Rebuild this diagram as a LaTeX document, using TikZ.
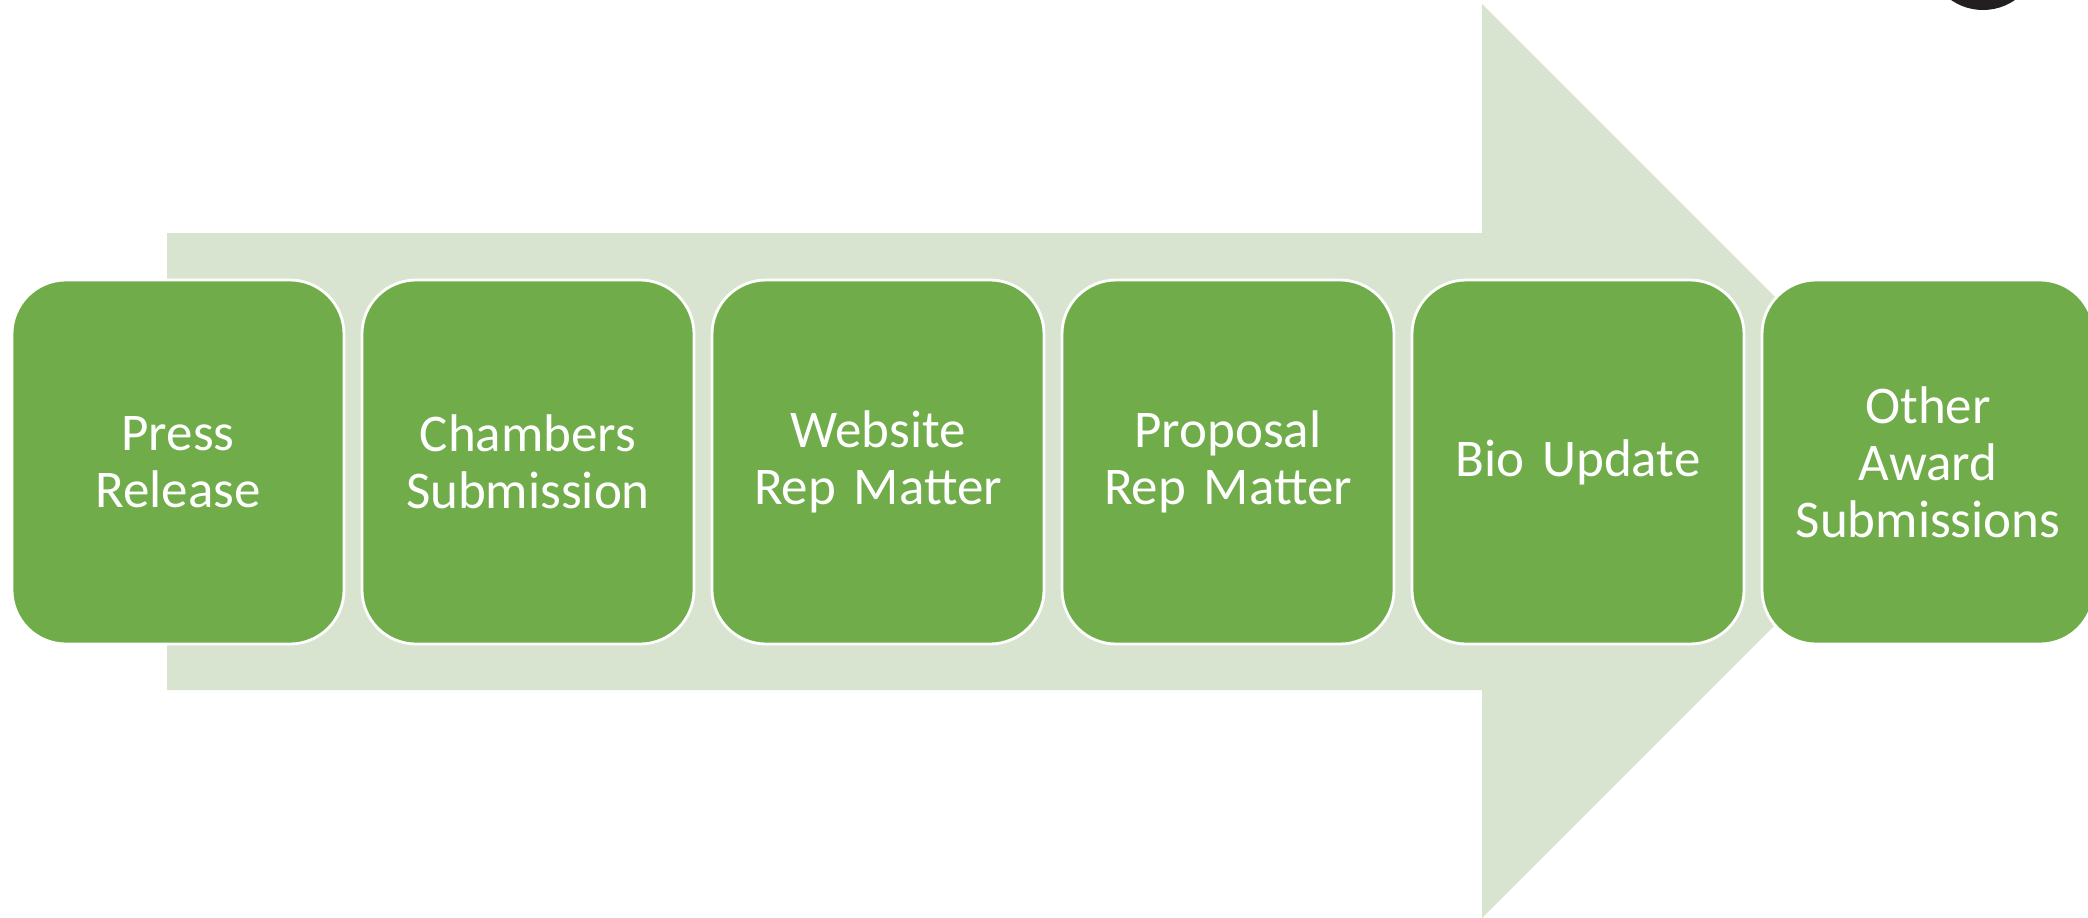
\documentclass[tikz,border=0pt]{standalone}
\usepackage{fontspec}
\setmainfont[WordSpace=0.75]{Carlito}
\definecolor{arrowfill}{HTML}{D8E4D0}
\definecolor{boxfill}{HTML}{70AD4A}
\definecolor{dotfill}{HTML}{231F20}
\tikzset{
  stagebox/.style={draw=white,line width=1.4pt,fill=boxfill,rounded corners=27pt,
    minimum width=166pt,minimum height=182pt,inner sep=0pt,outer sep=0pt,
    text=white,align=center,font=\fontsize{26.5}{28.5}\selectfont,text width=164pt},
  bigarrow/.style={fill=arrowfill,draw=none},
  dot/.style={fill=dotfill,draw=none}
}
\begin{document}
\begin{tikzpicture}[x=0.5pt,y=-0.5pt]
\useasboundingbox (0,0) rectangle (2088,917);
\clip (0,0) rectangle (2088,917);
\fill[bigarrow] (167,233) -- (1482,233) -- (1482,4) -- (1939,461) -- (1482,918) -- (1482,690) -- (167,690) -- cycle;
\fill[dot] (1983,-46) circle[radius=56];
\node[stagebox] (a) at (178,462) {Press\\Release};
\node[stagebox] (b) at (528,462) {Chambers\\Submission};
\node[stagebox] (c) at (878,462) {Website\\Rep Matter};
\node[stagebox] (d) at (1228,462) {Proposal\\Rep Matter};
\node[stagebox] (e) at (1578,462) {Bio Update};
\node[stagebox] (f) at (1928,462) {Other\\Award\\Submissions};
\end{tikzpicture}
\end{document}
